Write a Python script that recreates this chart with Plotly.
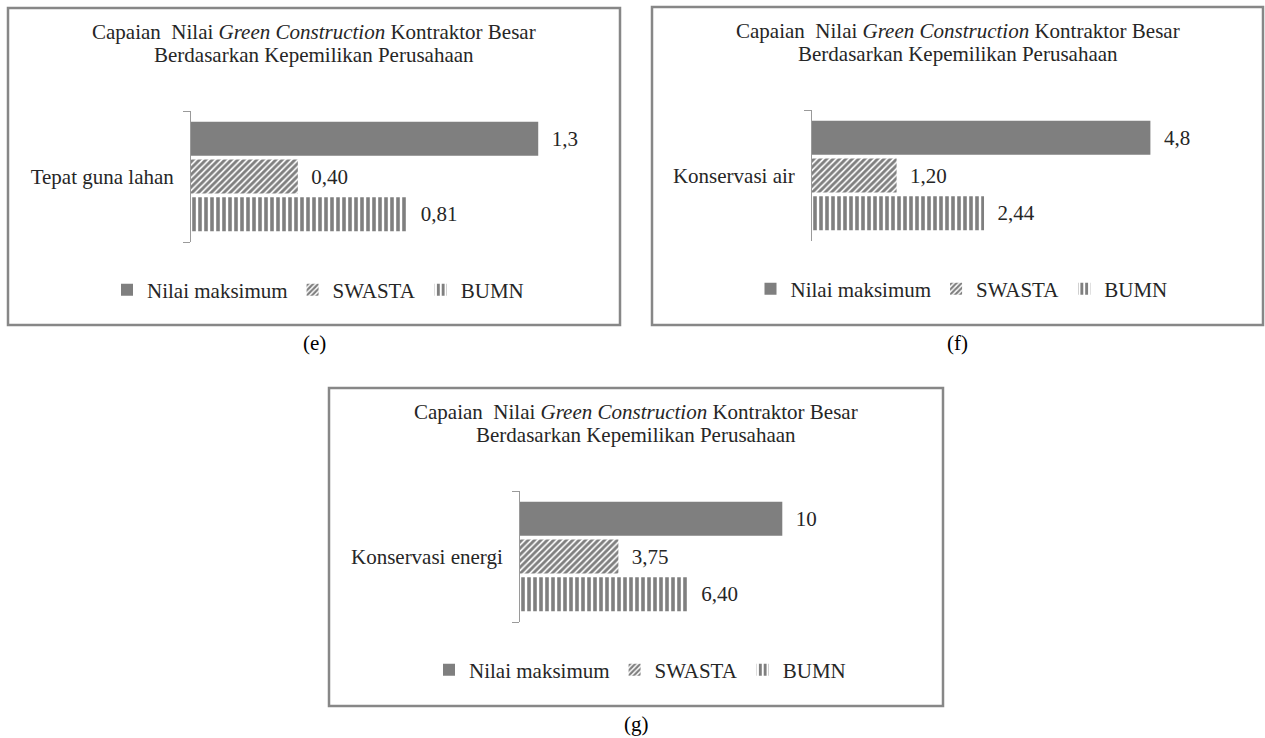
import plotly.graph_objects as go

# ---- data -------------------------------------------------------------
categories = ["Tepat guna lahan", "Konservasi air", "Konservasi energi"]
nilai_maksimum = [1.3, 4.8, 10]
swasta = [0.40, 1.20, 3.75]
bumn = [0.81, 2.44, 6.40]
max_label_fmt = [".1f", ".1f", ".0f"]
series_names = ["Nilai maksimum", "SWASTA", "BUMN"]
panel_tags = ["(e)", "(f)", "(g)"]
title_line1 = "Capaian\u00a0 Nilai <i>Green Construction</i> Kontraktor Besar"
title_line2 = "Berdasarkan Kepemilikan Perusahaan"

# ---- page geometry (pixels) ------------------------------------------
W, H = 1265, 738
FONT = "Liberation Serif"
TEXT = "#262626"
FS = 21

# frame of each panel: left, top, right, bottom
frames = [(8, 8, 620, 325), (652, 7, 1263, 325), (329, 388, 943, 706)]
# value axis: left edge (zero), right edge, upper end of the range
value_axes = [(191, 605, 1.55), (812, 1235, 6.0), (520, 920, 15.25)]
PLOT_TOP_OFFSET = 103   # frame top -> top of category band
BAND = 131              # height of the category band


def px(x):
    return x / W


def py(y):
    return 1 - y / H


def font(color=TEXT):
    return dict(family=FONT, size=FS, color=color)


styles = [
    dict(color="#7f7f7f", line=dict(width=0)),
    dict(color="white", line=dict(width=0),
         pattern=dict(shape="/", fgcolor="black", bgcolor="white",
                      size=4.5, solidity=0.62)),
    dict(color="white", line=dict(width=0),
         pattern=dict(shape="|", fgcolor="black", bgcolor="white",
                      size=6, solidity=0.6)),
]

fig = go.Figure()
layout = dict(
    width=W, height=H,
    margin=dict(l=0, r=0, t=0, b=0),
    paper_bgcolor="white", plot_bgcolor="white",
    barmode="group", bargap=0.137, bargroupgap=0.1,
    separators=",.",
    font=font(),
    showlegend=True,
)
shapes, annotations = [], []

for i, cat in enumerate(categories):
    sfx = "" if i == 0 else str(i + 1)
    xa, ya, lg = "x" + sfx, "y" + sfx, "legend" + sfx
    left, top, right, bottom = frames[i]
    x0, x1, xmax = value_axes[i]
    band_top = top + PLOT_TOP_OFFSET
    band_bot = band_top + BAND
    cx = (left + right) / 2

    values = [nilai_maksimum[i], swasta[i], bumn[i]]
    fmts = [max_label_fmt[i], ".2f", ".2f"]
    for name, val, fmt, st in zip(series_names, values, fmts, styles):
        fig.add_trace(go.Bar(
            x=[val], y=[cat], orientation="h", name=name,
            marker=st, xaxis=xa, yaxis=ya, legend=lg,
            texttemplate="\u00a0\u00a0%{x:" + fmt + "}",
            textposition="outside", cliponaxis=False,
            textfont=font(),
            hoverinfo="skip",
        ))

    layout["xaxis" + sfx] = dict(
        domain=[px(x0), px(x1)], range=[0, xmax], visible=False,
        anchor=ya, fixedrange=True,
    )
    layout["yaxis" + sfx] = dict(
        domain=[py(band_bot), py(band_top)], anchor=xa,
        type="category", range=[0.5, -0.5],
        showline=True, linecolor="#9a9a9a", linewidth=1,
        ticks="outside", tickson="boundaries", ticklen=7,
        tickcolor="#9a9a9a", tickwidth=1,
        showgrid=False, zeroline=False,
        tickfont=font(),
        ticklabelstandoff=12, fixedrange=True,
    )
    layout[lg] = dict(
        orientation="h", x=px(cx + 4), y=py(top + 282),
        xanchor="center", yanchor="middle",
        font=font(),
        bgcolor="rgba(0,0,0,0)",
    )

    shapes.append(dict(
        type="rect", xref="paper", yref="paper",
        x0=px(left), x1=px(right), y0=py(bottom), y1=py(top),
        line=dict(color="#878787", width=2.5), layer="below",
    ))
    annotations += [
        dict(text=title_line1, x=px(cx), y=py(top + 24), xref="paper",
             yref="paper", showarrow=False, xanchor="center",
             yanchor="middle", font=font()),
        dict(text=title_line2, x=px(cx), y=py(top + 47), xref="paper",
             yref="paper", showarrow=False, xanchor="center",
             yanchor="middle", font=font()),
        dict(text=panel_tags[i], x=px(cx), y=py(bottom + 18), xref="paper",
             yref="paper", showarrow=False, xanchor="center",
             yanchor="middle", font=font("black")),
    ]

layout["shapes"] = shapes
layout["annotations"] = annotations
fig.update_layout(**layout)

fig.write_html("out.html")
